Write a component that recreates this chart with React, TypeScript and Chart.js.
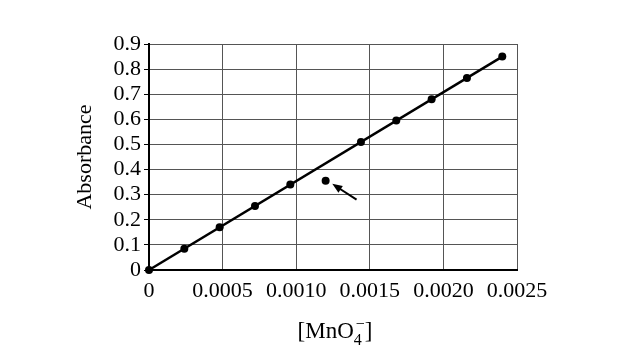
import React, { useEffect, useRef } from "react";
import { Chart, registerables } from "chart.js";

Chart.register(...registerables);

const concentration = [0, 0.00024, 0.00048, 0.00072, 0.00096, 0.0012, 0.00144, 0.00168, 0.00192, 0.00216, 0.0024];
const absorbance = [0, 0.085, 0.17, 0.255, 0.34, 0.355, 0.51, 0.595, 0.68, 0.765, 0.85];
const fitX = [0, 0.0024];
const fitY = [0, 0.85];
const xTickValues = [0, 0.0005, 0.001, 0.0015, 0.002, 0.0025];
const xTickLabels = ["0", "0.0005", "0.0010", "0.0015", "0.0020", "0.0025"];
const yTickValues = [0, 0.1, 0.2, 0.3, 0.4, 0.5, 0.6, 0.7, 0.8, 0.9];
const yTickLabels = ["0", "0.1", "0.2", "0.3", "0.4", "0.5", "0.6", "0.7", "0.8", "0.9"];
const arrowFrom = [0.00141, 0.28];
const arrowTo = [0.001245, 0.343];
const yTitle = "Absorbance";
const xTitleParts = ["[MnO", "4", "−", "]"];

const FONT = '"Liberation Serif", "Times New Roman", serif';

const extrasPlugin = {
  id: "extras",
  afterDatasetsDraw(chart: any) {
    const ctx = chart.ctx;
    const xs = chart.scales.x;
    const ys = chart.scales.y;
    const x1 = xs.getPixelForValue(arrowFrom[0]);
    const y1 = ys.getPixelForValue(arrowFrom[1]);
    const x2 = xs.getPixelForValue(arrowTo[0]);
    const y2 = ys.getPixelForValue(arrowTo[1]);
    const ang = Math.atan2(y2 - y1, x2 - x1);
    const headLen = 10;
    const headW = 4;
    ctx.save();
    ctx.strokeStyle = "#000";
    ctx.fillStyle = "#000";
    ctx.lineWidth = 2;
    ctx.beginPath();
    ctx.moveTo(x1, y1);
    ctx.lineTo(x2 - Math.cos(ang) * headLen * 0.8, y2 - Math.sin(ang) * headLen * 0.8);
    ctx.stroke();
    ctx.beginPath();
    ctx.moveTo(x2, y2);
    const bx = x2 - Math.cos(ang) * headLen;
    const by = y2 - Math.sin(ang) * headLen;
    ctx.lineTo(bx + Math.sin(ang) * headW, by - Math.cos(ang) * headW);
    ctx.lineTo(bx - Math.sin(ang) * headW, by + Math.cos(ang) * headW);
    ctx.closePath();
    ctx.fill();
    ctx.restore();
  },
  afterDraw(chart: any) {
    const ctx = chart.ctx;
    ctx.save();
    ctx.fillStyle = "#000";
    ctx.font = `22px ${FONT}`;
    ctx.textAlign = "center";
    ctx.textBaseline = "middle";
    ctx.translate(85, 157);
    ctx.rotate(-Math.PI / 2);
    ctx.fillText(yTitle, 0, 0);
    ctx.restore();

    ctx.save();
    ctx.fillStyle = "#000";
    ctx.textAlign = "left";
    ctx.textBaseline = "alphabetic";
    const big = `23px ${FONT}`;
    const small = `16px ${FONT}`;
    ctx.font = big;
    const w0 = ctx.measureText(xTitleParts[0]).width;
    const w3 = ctx.measureText(xTitleParts[3]).width;
    ctx.font = small;
    const w1 = ctx.measureText(xTitleParts[1]).width;
    const w2 = ctx.measureText(xTitleParts[2]).width;
    const ws = Math.max(w1, w2 + 2);
    const total = w0 + ws + w3;
    const cx = (chart.chartArea.left + chart.chartArea.right) / 2 + 2;
    const base = 338;
    let x = cx - total / 2;
    ctx.font = big;
    ctx.fillText(xTitleParts[0], x, base);
    x += w0;
    ctx.font = small;
    ctx.fillText(xTitleParts[1], x, base + 7);
    ctx.fillText(xTitleParts[2], x + 2, base - 9);
    x += ws;
    ctx.font = big;
    ctx.fillText(xTitleParts[3], x, base);
    ctx.restore();
  },
};

export default function App() {
  const ref = useRef<HTMLCanvasElement>(null);
  useEffect(() => {
    if (!ref.current) return;
    const chart = new Chart(ref.current, {
      type: "scatter",
      data: {
        datasets: [
          {
            data: fitX.map((x, i) => ({ x, y: fitY[i] })),
            showLine: true,
            borderColor: "#000",
            borderWidth: 2.5,
            pointRadius: 0,
            clip: false as any,
          },
          {
            data: concentration.map((x, i) => ({ x, y: absorbance[i] })),
            showLine: false,
            backgroundColor: "#000",
            borderColor: "#000",
            pointRadius: 4,
            pointBorderWidth: 0,
            clip: false as any,
          },
        ],
      },
      options: {
        responsive: false,
        animation: false,
        layout: { padding: { left: 0, right: 126, top: 44, bottom: 0 } },
        plugins: { legend: { display: false }, tooltip: { enabled: false } },
        scales: {
          x: {
            type: "linear",
            min: 0,
            max: 0.0025,
            afterBuildTicks: (s: any) => {
              s.ticks = xTickValues.map((v) => ({ value: v }));
            },
            afterFit: (s: any) => {
              s.height = 88;
            },
            ticks: {
              callback: (_v: any, i: number) => xTickLabels[i],
              color: "#000",
              font: { family: FONT, size: 22 },
              padding: 8,
              maxRotation: 0,
              autoSkip: false,
            },
            grid: { color: "#555", lineWidth: 1, drawTicks: false },
            border: { color: "#000", width: 2 },
          },
          y: {
            type: "linear",
            min: 0,
            max: 0.9,
            afterBuildTicks: (s: any) => {
              s.ticks = yTickValues.map((v) => ({ value: v }));
            },
            afterFit: (s: any) => {
              s.width = 149;
            },
            ticks: {
              callback: (_v: any, i: number) => yTickLabels[i],
              color: "#000",
              font: { family: FONT, size: 22 },
              padding: 3,
              autoSkip: false,
            },
            grid: { color: "#555", lineWidth: 1, tickLength: 5, tickColor: "#000" },
            border: { color: "#000", width: 2 },
          },
        },
      },
      plugins: [extrasPlugin],
    });
    return () => chart.destroy();
  }, []);
  return (
    <div style={{ position: "fixed", left: 0, top: 0, width: 643, height: 358, background: "#fff" }}>
      <canvas ref={ref} width={643} height={358} style={{ display: "block" }} />
    </div>
  );
}
